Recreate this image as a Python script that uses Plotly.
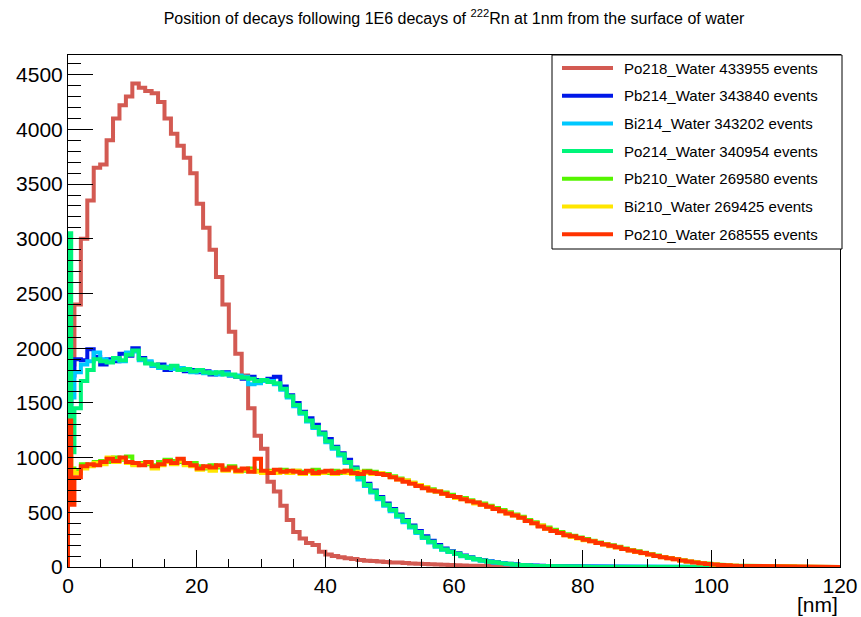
import plotly.graph_objects as go

# Bin edges in nm: two half-nm bins at the surface, then 1 nm bins up to 120 nm
bin_edges = [0.0, 0.5] + list(range(1, 121))

series_names = [
    "Po218_Water 433955 events",
    "Pb214_Water 343840 events",
    "Bi214_Water 343202 events",
    "Po214_Water 340954 events",
    "Pb210_Water 269580 events",
    "Bi210_Water 269425 events",
    "Po210_Water 268555 events",
]

po218 = [1500, 1850,
         2400, 3000, 3350, 3650, 3680, 3900, 4100, 4220, 4300, 4420,
         4380, 4350, 4330, 4250, 4100, 3960, 3850, 3740, 3600, 3320,
         3100, 2900, 2650, 2400, 2150, 1950, 1750, 1450, 1200, 1080,
         780, 690, 560, 430, 320, 260, 220, 200, 140, 115,
         100, 90, 80, 72, 65, 58, 54, 50, 46, 42,
         40, 36, 33, 30, 28, 25, 22, 20, 18, 16,
         14, 12, 11, 10, 9, 8, 7, 6, 5, 5,
         4, 4, 3, 3, 2, 2, 2, 1, 1, 1,
         1, 1, 1, 0, 1, 0, 0, 1, 0, 0,
         0, 0, 0, 0, 0, 0, 0, 0, 0, 0,
         0, 0, 0, 0, 0, 0, 0, 0, 0, 0,
         0, 0, 0, 0, 0, 0, 0, 0, 0]

pb214 = [1400, 1750,
         1900, 1890, 1990, 1920, 1850, 1900, 1880, 1950, 1930, 2000,
         1910, 1870, 1840, 1850, 1800, 1830, 1810, 1790, 1800, 1780,
         1790, 1760, 1770, 1780, 1750, 1740, 1720, 1740, 1710, 1700,
         1720, 1740, 1650, 1570, 1500, 1420, 1360, 1300, 1230, 1170,
         1100, 1040, 980, 910, 840, 760, 700, 640, 580, 530,
         480, 430, 380, 330, 280, 240, 200, 170, 145, 125,
         105, 88, 72, 62, 52, 44, 37, 30, 24, 19,
         16, 13, 11, 9, 8, 7, 5, 4, 4, 3,
         3, 2, 2, 2, 1, 1, 1, 1, 0, 1,
         0, 0, 0, 0, 0, 0, 0, 0, 0, 0,
         0, 0, 0, 0, 0, 0, 0, 0, 0, 0,
         0, 0, 0, 0, 0, 0, 0, 0, 0]

bi214 = [1350, 1550,
         1780, 1850, 1880, 1960, 1900, 1880, 1900, 1880, 1960, 1970,
         1890, 1880, 1840, 1820, 1830, 1810, 1820, 1800, 1780, 1790,
         1770, 1780, 1760, 1770, 1750, 1750, 1740, 1670, 1680, 1700,
         1700, 1670, 1620, 1550, 1470, 1400, 1330, 1270, 1210, 1140,
         1080, 1020, 950, 880, 800, 740, 680, 620, 560, 510,
         460, 410, 360, 310, 265, 225, 185, 158, 138, 118,
         98, 84, 69, 58, 49, 41, 34, 27, 21, 17,
         14, 11, 9, 8, 6, 5, 5, 4, 3, 2,
         2, 2, 1, 1, 1, 1, 0, 1, 0, 0,
         0, 0, 0, 0, 0, 0, 0, 0, 0, 0,
         0, 0, 0, 0, 0, 0, 0, 0, 0, 0,
         0, 0, 0, 0, 0, 0, 0, 0, 0]

po214 = [3050, 1050,
         1450, 1700, 1800, 1900, 1880, 1870, 1910, 1890, 1940, 1980,
         1900, 1860, 1850, 1830, 1820, 1840, 1800, 1810, 1790, 1800,
         1780, 1770, 1780, 1760, 1760, 1740, 1730, 1720, 1700, 1710,
         1690, 1680, 1630, 1560, 1480, 1410, 1340, 1280, 1220, 1150,
         1090, 1030, 960, 900, 820, 750, 690, 630, 570, 520,
         470, 420, 370, 320, 270, 230, 190, 160, 140, 120,
         100, 85, 70, 60, 50, 42, 35, 28, 22, 18,
         15, 12, 10, 8, 7, 6, 5, 4, 3, 3,
         2, 2, 2, 1, 1, 1, 1, 0, 1, 0,
         0, 0, 0, 0, 0, 0, 0, 0, 0, 0,
         0, 0, 0, 0, 0, 0, 0, 0, 0, 0,
         0, 0, 0, 0, 0, 0, 0, 0, 0]

pb210 = [1050, 900,
         880, 940, 930, 960, 970, 960, 1000, 980, 1010, 940,
         950, 940, 930, 960, 980, 970, 960, 940, 950, 920,
         900, 930, 910, 900, 920, 890, 880, 900, 880, 870,
         880, 870, 890, 860, 880, 870, 870, 890, 870, 860,
         880, 860, 880, 870, 860, 880, 870, 860, 850, 830,
         810, 790, 770, 750, 730, 710, 690, 680, 660, 640,
         630, 610, 590, 580, 560, 540, 520, 500, 480, 460,
         430, 410, 380, 360, 340, 320, 300, 285, 270, 255,
         240, 225, 210, 198, 185, 170, 155, 145, 130, 118,
         104, 92, 82, 72, 62, 52, 44, 36, 30, 24,
         19, 16, 13, 11, 9, 8, 7, 7, 6, 5,
         5, 4, 3, 3, 2, 2, 2, 1, 1]

bi210 = [1000, 880,
         860, 900, 920, 950, 940, 1000, 960, 990, 950, 930,
         940, 950, 900, 930, 960, 940, 970, 930, 920, 890,
         910, 880, 920, 880, 900, 870, 890, 880, 870, 860,
         870, 860, 870, 860, 880, 850, 870, 850, 860, 870,
         850, 870, 860, 850, 870, 860, 850, 860, 840, 820,
         800, 790, 770, 750, 730, 700, 690, 670, 650, 630,
         620, 600, 580, 570, 550, 530, 510, 490, 470, 450,
         420, 400, 380, 350, 330, 310, 290, 275, 260, 245,
         235, 220, 205, 190, 178, 165, 150, 138, 126, 114,
         100, 90, 80, 70, 60, 50, 43, 35, 28, 23,
         18, 15, 12, 10, 9, 8, 7, 6, 5, 5,
         4, 4, 3, 3, 2, 2, 2, 1, 1]

po210 = [1340, 570,
         820, 920, 940, 930, 960, 990, 970, 1000, 960, 950,
         930, 960, 920, 940, 970, 950, 990, 950, 930, 900,
         920, 910, 930, 890, 910, 880, 900, 870, 990, 880,
         860, 890, 870, 880, 870, 860, 880, 860, 870, 880,
         860, 870, 880, 860, 850, 870, 860, 850, 840, 820,
         800, 780, 760, 740, 720, 700, 690, 670, 650, 640,
         620, 600, 590, 570, 550, 530, 510, 490, 470, 450,
         420, 400, 370, 350, 330, 310, 290, 280, 265, 250,
         235, 220, 205, 195, 180, 165, 150, 140, 128, 115,
         100, 90, 80, 70, 60, 50, 42, 35, 28, 22,
         18, 15, 12, 10, 9, 8, 7, 6, 6, 5,
         4, 4, 3, 3, 2, 2, 2, 1, 1]

series_values = [po218, pb214, bi214, po214, pb210, bi210, po210]
series_colors = ["#d35a52", "#0018e8", "#00c8ff", "#00f57a", "#55f500", "#ffe600", "#ff3300"]

n_bins = len(bin_edges) - 1
for v in series_values:
    assert len(v) == n_bins, len(v)

W, H = 861, 617
ML, MR, MT, MB = 68, 21, 55, 50
PW, PH = W - ML - MR, H - MT - MB


def step_path(edges, vals):
    xs, ys = [edges[0]], [0]
    for i, v in enumerate(vals):
        xs += [edges[i], edges[i + 1]]
        ys += [v, v]
    return xs, ys


def px_x(p):  # pixel x -> paper
    return (p - ML) / PW


def px_y(p):  # pixel y -> paper
    return (H - MB - p) / PH


fig = go.Figure()
for name, vals, col in zip(series_names, series_values, series_colors):
    xs, ys = step_path(bin_edges, vals)
    fig.add_trace(go.Scatter(x=xs, y=ys, mode="lines", name=name, showlegend=False,
                             line=dict(color=col, width=4)))

font_family = "Liberation Sans, Arial, Helvetica, sans-serif"

# Legend box drawn like the ROOT TLegend
shapes = [dict(type="rect", xref="paper", yref="paper",
               x0=px_x(552), x1=px_x(842), y0=px_y(249), y1=px_y(55),
               line=dict(color="black", width=1), fillcolor="white", layer="above")]
annotations = []
row0, row_step = 68, 27.7
for k, (name, col) in enumerate(zip(series_names, series_colors)):
    yk = px_y(row0 + k * row_step)
    shapes.append(dict(type="line", xref="paper", yref="paper",
                       x0=px_x(562), x1=px_x(613), y0=yk, y1=yk,
                       line=dict(color=col, width=4), layer="above"))
    annotations.append(dict(text=name, xref="paper", yref="paper", x=px_x(622), y=yk,
                            xanchor="left", yanchor="middle", showarrow=False,
                            font=dict(size=15, family=font_family, color="black")))

annotations.append(dict(text="[nm]", xref="paper", yref="paper", x=1.0, y=px_y(604),
                        xanchor="right", yanchor="middle", showarrow=False,
                        font=dict(size=21, family=font_family, color="black")))

fig.update_layout(
    width=W, height=H,
    margin=dict(l=ML, r=MR, t=MT, b=MB),
    paper_bgcolor="white", plot_bgcolor="white",
    font=dict(family=font_family, color="black"),
    title=dict(text="Position of decays following 1E6 decays of <sup>222</sup>Rn at 1nm from the surface of water",
               x=0.5, xref="paper", xanchor="center", y=1 - 18 / H, yref="container",
               yanchor="middle", font=dict(size=16, family=font_family, color="black")),
    showlegend=False,
    xaxis=dict(range=[0, 120], showgrid=False, zeroline=False, showline=True, automargin=False,
               linecolor="black", linewidth=1, mirror=True,
               ticks="inside", ticklen=17, tickwidth=1, tickcolor="black",
               tick0=0, dtick=20, tickfont=dict(size=21, family=font_family),
               minor=dict(dtick=5, ticklen=8, ticks="inside", tickcolor="black", showgrid=False)),
    yaxis=dict(range=[0, 4680], showgrid=False, zeroline=False, showline=True, automargin=False,
               linecolor="black", linewidth=1, mirror=True,
               ticks="inside", ticklen=25, tickwidth=1, tickcolor="black",
               tick0=0, dtick=500, tickfont=dict(size=21, family=font_family),
               minor=dict(dtick=100, ticklen=13, ticks="inside", tickcolor="black", showgrid=False)),
    shapes=shapes,
    annotations=annotations,
)

fig.write_html("out.html", config={"displayModeBar": False},
               post_script="document.body.style.margin='0px';")
